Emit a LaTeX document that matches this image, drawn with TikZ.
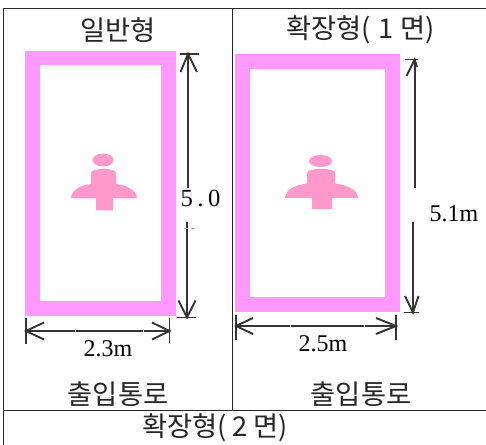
\documentclass[tikz,border=0pt]{standalone}
\usepackage{fontspec}
\setmainfont{Liberation Serif}
\newfontfamily\krfont{Noto Sans CJK KR}
\definecolor{wallpink}{HTML}{FF99FF}
\definecolor{figpink}{HTML}{FF99CC}
\tikzset{
  px/.style={x=0.75pt,y=-0.75pt},
  frameline/.style={draw=black!85,line width=0.75pt},
  wallbox/.style={fill=wallpink,draw=none},
  roombox/.style={fill=white,draw=none},
  figure part/.style={fill=figpink,draw=none},
  dim/.style={draw=black!80,line width=1.4pt},
  dimtip/.style={draw=black!80,line width=1.4pt,line join=miter},
  gapmark/.style={draw=white,line width=0.6pt},
  ghost/.style={draw=black!35,line width=0.4pt,dash pattern=on 3pt off 2pt},
  title/.style={font=\krfont\fontsize{20.5}{22}\selectfont,inner sep=0pt,text=black!85},
  dimtext/.style={font=\fontsize{18}{20}\selectfont,inner sep=0pt,text=black},
}
\begin{document}
\begin{tikzpicture}[px]
\useasboundingbox (0,0) rectangle (486,445);
% table frame
\draw[frameline] (3.5,445) -- (3.5,9) -- (486,9);
\draw[frameline] (232.5,9) -- (232.5,410.5);
\draw[frameline] (3.5,410.5) -- (486,410.5);
% left room
\fill[wallbox] (25,51) rectangle (175.7,315.7);
\fill[roombox] (40,65.5) rectangle (161,300.7);
% right room
\fill[wallbox] (234.7,54.5) rectangle (399.7,311.7);
\fill[roombox] (249.7,69.5) rectangle (385,297.3);
% left figure
\fill[figure part] (103,160) ellipse (10.5 and 6.5);
\fill[figure part] (91,184) -- (91,173) .. controls (91,167.5) and (116,167.5) .. (116,173) -- (116,184)
  .. controls (126,185) and (137,190) .. (137,198.5) -- (113,198.5) -- (113,210.5) -- (96,210.5) -- (96,198.5) -- (71,198.5)
  .. controls (71,190) and (81,185) .. (91,184) -- cycle;
% right figure
\fill[figure part] (320.5,161) ellipse (11.5 and 6);
\fill[figure part] (307,183.5) -- (307,173) .. controls (307,167.5) and (335,167.5) .. (335,173) -- (335,183.5)
  .. controls (347,185) and (358,190) .. (358,198) -- (332,198) -- (332,209) -- (312,209) -- (312,198) -- (285,198)
  .. controls (285,190) and (295,185) .. (307,183.5) -- cycle;
% titles
\node[title] (t1) at (118,30) {일반형};
\node[title] (t2) at (360.5,30) {확장형(\hspace{6pt}1\hspace{5pt}면)};
\node[title] (t3) at (215,428) {확장형(\hspace{4pt}2\hspace{4pt}면)};
\node[title] (p1) at (118,394) {출입통로};
\node[title] (p2) at (361,394) {출입통로};
% left vertical dimension
\node[font=\fontsize{18.5}{20}\selectfont,inner sep=0pt] (h1) at (200.5,198) {5\hspace{3.4pt}.\hspace{3.4pt}0};
\coordinate (h1a) at (188,54); \coordinate (h1b) at (187,317.5);
\draw[dim] (180,54) -- (199,54);
\draw[dim] (177,317.5) -- (196,317.5);
\draw[dim] (h1a) -- (188,188);
\draw[dim] (187,222) -- (h1b);
\draw[dimtip] (180.5,72) -- (h1a) -- (197,72);
\draw[dimtip] (178.5,300.5) -- (h1b) -- (195.5,300.5);
\draw[ghost] (184,228.5) -- (196,228.5);
% left horizontal
\coordinate (w1a) at (26,331); \coordinate (w1b) at (169.5,331);
\draw[dim] (26,318) -- (26,344);
\draw[dim] (169.5,318.5) -- (169.5,343.5);
\draw[dim] (w1a) -- (w1b);
\draw[dimtip] (44,322.5) -- (w1a) -- (44,339.5);
\draw[dimtip] (152,322.5) -- (w1b) -- (152,339.5);
\draw[gapmark] (75.5,329) -- (75.5,333);
\draw[gapmark] (143,329) -- (143,333);
\node[dimtext] (w1) at (108,349) {2.3m};
% right vertical
\coordinate (h2a) at (414.7,59.5); \coordinate (h2b) at (413,312.5);
\draw[dim] (405,59.5) -- (418,59.5);
\draw[dim] (404,312.5) -- (418.5,312.5);
\draw[dim] (h2a) -- (414.7,188);
\draw[dim] (413,222) -- (h2b);
\draw[dimtip] (406.5,76) -- (h2a) -- (417,67);
\draw[dimtip] (405,296) -- (h2b) -- (418.5,296);
\node[dimtext] (h2) at (454,214) {5.1m};
% right horizontal
\coordinate (w2a) at (236,326); \coordinate (w2b) at (396,326);
\draw[dim] (235.7,315) -- (235.7,340);
\draw[dim] (396,315.5) -- (396,340);
\draw[dim] (w2a) -- (w2b);
\draw[dimtip] (253,318) -- (w2a) -- (253,334);
\draw[dimtip] (376,318) -- (w2b) -- (376,334);
\draw[gapmark] (290.5,324) -- (290.5,328);
\draw[gapmark] (364.5,324) -- (364.5,328);
\node[dimtext] (w2) at (323,344) {2.5m};
\end{tikzpicture}
\end{document}
